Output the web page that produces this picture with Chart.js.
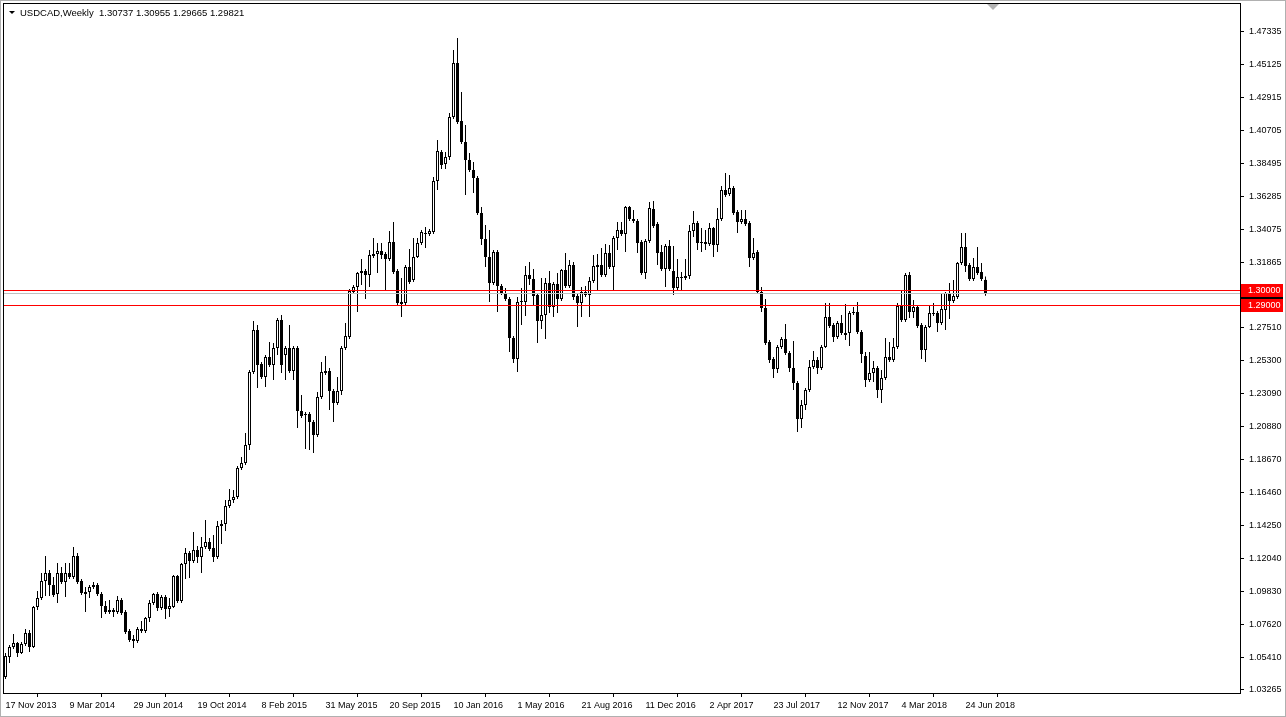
<!DOCTYPE html>
<html>
<head>
<meta charset="utf-8">
<title>USDCAD Weekly</title>
<script src="https://cdn.jsdelivr.net/npm/chart.js@4.4.0/dist/chart.umd.min.js"></script>
<style>
  html, body { margin: 0; padding: 0; background: #fff; }
  #wrap { width: 1286px; height: 717px; position: relative; }
</style>
</head>
<body>
<div id="wrap"><canvas id="chart"></canvas></div>
<script>
// ── Data (weekly candles, 17 Nov 2013 .. 29 Jul 2018) ──
const symbolTitle = "USDCAD,Weekly";
const lastQuote = "1.30737 1.30955 1.29665 1.29821";

const open = [
  1.0412, 1.0546, 1.0613, 1.0640, 1.0573, 1.0633, 1.0707, 1.0613, 1.0881, 1.0941,
  1.1055, 1.1109, 1.1029, 1.0968, 1.1109, 1.1049, 1.1109, 1.1082, 1.1223, 1.1055,
  1.0968, 1.0982, 1.1015, 1.1029, 1.0968, 1.0888, 1.0848, 1.0861, 1.0848, 1.0928,
  1.0848, 1.0720, 1.0667, 1.0653, 1.0720, 1.0720, 1.0807, 1.0908, 1.0968, 1.0874,
  1.0948, 1.0868, 1.0881, 1.1089, 1.0921, 1.1169, 1.1243, 1.1189, 1.1263, 1.1216,
  1.1283, 1.1317, 1.1276, 1.1216, 1.1424, 1.1437, 1.1558, 1.1598, 1.1618, 1.1812,
  1.1846, 1.1967, 1.2456, 1.2737, 1.2509, 1.2422, 1.2556, 1.2503, 1.2616, 1.2804,
  1.2570, 1.2616, 1.2462, 1.2616, 1.2194, 1.2168, 1.2174, 1.2121, 1.2034, 1.2288,
  1.2462, 1.2462, 1.2328, 1.2248, 1.2328, 1.2616, 1.2690, 1.2992, 1.3025, 1.3119,
  1.3132, 1.3106, 1.3233, 1.3246, 1.3266, 1.3246, 1.3213, 1.3327, 1.3132, 1.2911,
  1.2918, 1.3159, 1.3072, 1.3226, 1.3320, 1.3387, 1.3380, 1.3394, 1.3735, 1.3930,
  1.3849, 1.3896, 1.4164, 1.4526, 1.4137, 1.3997, 1.3876, 1.3809, 1.3755, 1.3521,
  1.3347, 1.3226, 1.3052, 1.3260, 1.3032, 1.2985, 1.2945, 1.2683, 1.2543, 1.2925,
  1.2925, 1.3106, 1.3079, 1.2972, 1.2797, 1.2838, 1.3052, 1.2891, 1.3045, 1.2945,
  1.3139, 1.3032, 1.3173, 1.2965, 1.2918, 1.2992, 1.2972, 1.3065, 1.3159, 1.3173,
  1.3106, 1.3253, 1.3159, 1.3353, 1.3407, 1.3380, 1.3561, 1.3481, 1.3467, 1.3327,
  1.3119, 1.3333, 1.3548, 1.3447, 1.3260, 1.3146, 1.3300, 1.3132, 1.3018, 1.3092,
  1.3085, 1.3099, 1.3400, 1.3454, 1.3320, 1.3327, 1.3313, 1.3420, 1.3307, 1.3481,
  1.3675, 1.3648, 1.3688, 1.3528, 1.3461, 1.3481, 1.3454, 1.3219, 1.3260, 1.2992,
  1.2884, 1.2657, 1.2543, 1.2476, 1.2623, 1.2677, 1.2583, 1.2482, 1.2382, 1.2141,
  1.2235, 1.2335, 1.2489, 1.2536, 1.2482, 1.2623, 1.2824, 1.2771, 1.2690, 1.2784,
  1.2717, 1.2717, 1.2851, 1.2858, 1.2724, 1.2563, 1.2402, 1.2449, 1.2482, 1.2335,
  1.2415, 1.2556, 1.2536, 1.2623, 1.2898, 1.2804, 1.3106, 1.2858, 1.2891, 1.2771,
  1.2603, 1.2757, 1.2844, 1.2851, 1.2784, 1.2871, 1.2985, 1.2931, 1.2958, 1.3186,
  1.3293, 1.3173, 1.3079, 1.3159, 1.3126, 1.3074
];
const high = [
  1.0573, 1.0627, 1.0700, 1.0647, 1.0647, 1.0734, 1.0727, 1.0888, 1.0988, 1.1109,
  1.1223, 1.1129, 1.1082, 1.1176, 1.1149, 1.1176, 1.1176, 1.1283, 1.1243, 1.1069,
  1.1015, 1.1029, 1.1049, 1.1042, 1.0982, 1.0921, 1.0928, 1.0874, 1.0955, 1.0941,
  1.0861, 1.0734, 1.0694, 1.0747, 1.0787, 1.0814, 1.0928, 1.0975, 1.0982, 1.0962,
  1.0962, 1.0941, 1.1096, 1.1096, 1.1176, 1.1276, 1.1256, 1.1384, 1.1290, 1.1350,
  1.1464, 1.1343, 1.1364, 1.1457, 1.1464, 1.1598, 1.1672, 1.1665, 1.1826, 1.1886,
  1.2047, 1.2469, 1.2797, 1.2771, 1.2523, 1.2570, 1.2657, 1.2650, 1.2817, 1.2838,
  1.2630, 1.2771, 1.2630, 1.2630, 1.2302, 1.2188, 1.2188, 1.2134, 1.2322, 1.2523,
  1.2563, 1.2482, 1.2342, 1.2422, 1.2630, 1.2784, 1.3012, 1.3039, 1.3126, 1.3213,
  1.3146, 1.3273, 1.3353, 1.3320, 1.3320, 1.3260, 1.3400, 1.3461, 1.3146, 1.3085,
  1.3173, 1.3280, 1.3353, 1.3353, 1.3407, 1.3427, 1.3414, 1.3762, 1.4010, 1.3943,
  1.3930, 1.4191, 1.4613, 1.4693, 1.4332, 1.4111, 1.3923, 1.3863, 1.3769, 1.3561,
  1.3441, 1.3407, 1.3273, 1.3273, 1.3045, 1.3018, 1.2958, 1.2697, 1.2958, 1.3018,
  1.3166, 1.3193, 1.3146, 1.2985, 1.3085, 1.3085, 1.3132, 1.3059, 1.3119, 1.3146,
  1.3253, 1.3206, 1.3193, 1.2978, 1.3025, 1.3032, 1.3092, 1.3240, 1.3246, 1.3286,
  1.3313, 1.3307, 1.3367, 1.3461, 1.3461, 1.3568, 1.3568, 1.3541, 1.3481, 1.3340,
  1.3347, 1.3595, 1.3601, 1.3461, 1.3307, 1.3313, 1.3340, 1.3300, 1.3213, 1.3126,
  1.3213, 1.3441, 1.3534, 1.3467, 1.3420, 1.3407, 1.3454, 1.3427, 1.3554, 1.3702,
  1.3789, 1.3776, 1.3702, 1.3541, 1.3541, 1.3541, 1.3467, 1.3353, 1.3273, 1.3025,
  1.2945, 1.2670, 1.2556, 1.2637, 1.2690, 1.2777, 1.2596, 1.2663, 1.2395, 1.2268,
  1.2348, 1.2536, 1.2596, 1.2556, 1.2637, 1.2918, 1.2918, 1.2784, 1.2797, 1.2838,
  1.2911, 1.2864, 1.2891, 1.2925, 1.2737, 1.2590, 1.2590, 1.2529, 1.2496, 1.2469,
  1.2683, 1.2657, 1.2683, 1.2918, 1.2998, 1.3119, 1.3126, 1.2938, 1.2905, 1.2784,
  1.2771, 1.2905, 1.2918, 1.2864, 1.2985, 1.2992, 1.3052, 1.3072, 1.3193, 1.3387,
  1.3387, 1.3186, 1.3219, 1.3293, 1.3186, 1.3096
];
const low = [
  1.0399, 1.0506, 1.0600, 1.0546, 1.0566, 1.0620, 1.0580, 1.0606, 1.0861, 1.0928,
  1.0955, 1.0955, 1.0948, 1.0908, 1.1035, 1.0948, 1.1069, 1.1069, 1.1035, 1.0962,
  1.0848, 1.0941, 1.1002, 1.0955, 1.0807, 1.0834, 1.0834, 1.0814, 1.0834, 1.0828,
  1.0700, 1.0647, 1.0606, 1.0640, 1.0707, 1.0707, 1.0781, 1.0895, 1.0854, 1.0861,
  1.0801, 1.0814, 1.0874, 1.0908, 1.0908, 1.1069, 1.1075, 1.1176, 1.1176, 1.1109,
  1.1270, 1.1256, 1.1183, 1.1203, 1.1303, 1.1390, 1.1544, 1.1578, 1.1605, 1.1799,
  1.1833, 1.1933, 1.2442, 1.2348, 1.2409, 1.2355, 1.2489, 1.2402, 1.2570, 1.2449,
  1.2402, 1.2449, 1.2402, 1.2080, 1.2147, 1.1940, 1.1933, 1.1913, 1.2020, 1.2275,
  1.2436, 1.2201, 1.2121, 1.2235, 1.2302, 1.2603, 1.2677, 1.2978, 1.2858, 1.3039,
  1.2945, 1.3025, 1.3219, 1.3119, 1.3213, 1.3005, 1.3199, 1.3112, 1.2905, 1.2824,
  1.2905, 1.3045, 1.3059, 1.3219, 1.3307, 1.3286, 1.3367, 1.3380, 1.3675, 1.3816,
  1.3816, 1.3876, 1.4151, 1.4117, 1.3983, 1.3642, 1.3796, 1.3655, 1.3508, 1.3307,
  1.3159, 1.2925, 1.3039, 1.2858, 1.2972, 1.2931, 1.2590, 1.2516, 1.2456, 1.2771,
  1.2831, 1.3039, 1.2905, 1.2650, 1.2744, 1.2677, 1.2851, 1.2824, 1.2851, 1.2931,
  1.3018, 1.3018, 1.2938, 1.2757, 1.2824, 1.2958, 1.2824, 1.3052, 1.3005, 1.3092,
  1.3092, 1.3146, 1.3005, 1.3273, 1.3367, 1.3260, 1.3467, 1.3454, 1.3253, 1.3106,
  1.3079, 1.3320, 1.3420, 1.3173, 1.3132, 1.3025, 1.3132, 1.2972, 1.3005, 1.3005,
  1.3072, 1.3079, 1.3360, 1.3273, 1.3260, 1.3273, 1.3300, 1.3226, 1.3260, 1.3467,
  1.3628, 1.3635, 1.3508, 1.3387, 1.3447, 1.3434, 1.3159, 1.3206, 1.2978, 1.2858,
  1.2637, 1.2516, 1.2415, 1.2449, 1.2610, 1.2570, 1.2456, 1.2335, 1.2054, 1.2080,
  1.2201, 1.2322, 1.2476, 1.2442, 1.2469, 1.2616, 1.2750, 1.2657, 1.2677, 1.2704,
  1.2670, 1.2630, 1.2838, 1.2710, 1.2516, 1.2355, 1.2389, 1.2389, 1.2281, 1.2248,
  1.2402, 1.2523, 1.2523, 1.2610, 1.2791, 1.2791, 1.2817, 1.2817, 1.2750, 1.2543,
  1.2523, 1.2750, 1.2831, 1.2724, 1.2771, 1.2737, 1.2811, 1.2918, 1.2945, 1.3173,
  1.3126, 1.3065, 1.3065, 1.3106, 1.3065, 1.2967
];
const close = [
  1.0553, 1.0613, 1.0640, 1.0573, 1.0633, 1.0707, 1.0613, 1.0881, 1.0941, 1.1055,
  1.1109, 1.1029, 1.0962, 1.1109, 1.1049, 1.1109, 1.1082, 1.1223, 1.1049, 1.0975,
  1.0982, 1.1015, 1.1029, 1.0968, 1.0888, 1.0848, 1.0861, 1.0848, 1.0928, 1.0841,
  1.0714, 1.0660, 1.0653, 1.0734, 1.0734, 1.0807, 1.0908, 1.0968, 1.0874, 1.0948,
  1.0868, 1.0888, 1.1089, 1.0921, 1.1169, 1.1243, 1.1189, 1.1263, 1.1216, 1.1283,
  1.1317, 1.1270, 1.1216, 1.1424, 1.1437, 1.1558, 1.1598, 1.1618, 1.1812, 1.1846,
  1.1967, 1.2456, 1.2737, 1.2503, 1.2422, 1.2556, 1.2503, 1.2616, 1.2804, 1.2503,
  1.2616, 1.2462, 1.2616, 1.2194, 1.2161, 1.2174, 1.2121, 1.2034, 1.2288, 1.2456,
  1.2449, 1.2328, 1.2248, 1.2328, 1.2616, 1.2697, 1.2998, 1.3025, 1.3119, 1.3132,
  1.3106, 1.3240, 1.3246, 1.3266, 1.3240, 1.3213, 1.3327, 1.3126, 1.2918, 1.2925,
  1.3159, 1.3059, 1.3226, 1.3320, 1.3394, 1.3380, 1.3400, 1.3735, 1.3936, 1.3843,
  1.3896, 1.4164, 1.4526, 1.4131, 1.3997, 1.3876, 1.3809, 1.3755, 1.3521, 1.3347,
  1.3226, 1.3052, 1.3260, 1.3032, 1.2985, 1.2945, 1.2683, 1.2543, 1.2925, 1.2931,
  1.3106, 1.3079, 1.2965, 1.2797, 1.2838, 1.3052, 1.2891, 1.3045, 1.2945, 1.3139,
  1.3032, 1.3173, 1.2958, 1.2918, 1.2992, 1.2972, 1.3065, 1.3166, 1.3173, 1.3106,
  1.3253, 1.3159, 1.3353, 1.3407, 1.3380, 1.3561, 1.3481, 1.3467, 1.3320, 1.3119,
  1.3333, 1.3554, 1.3434, 1.3253, 1.3146, 1.3300, 1.3146, 1.3018, 1.3092, 1.3085,
  1.3099, 1.3400, 1.3454, 1.3320, 1.3327, 1.3313, 1.3420, 1.3307, 1.3481, 1.3675,
  1.3642, 1.3688, 1.3521, 1.3461, 1.3481, 1.3447, 1.3219, 1.3253, 1.2992, 1.2884,
  1.2650, 1.2536, 1.2476, 1.2623, 1.2677, 1.2583, 1.2482, 1.2382, 1.2141, 1.2235,
  1.2335, 1.2489, 1.2536, 1.2482, 1.2623, 1.2824, 1.2764, 1.2690, 1.2784, 1.2717,
  1.2704, 1.2851, 1.2858, 1.2724, 1.2576, 1.2402, 1.2449, 1.2482, 1.2335, 1.2415,
  1.2556, 1.2536, 1.2623, 1.2898, 1.2804, 1.3106, 1.2858, 1.2891, 1.2764, 1.2603,
  1.2757, 1.2851, 1.2851, 1.2784, 1.2878, 1.2985, 1.2931, 1.2965, 1.3186, 1.3293,
  1.3166, 1.3079, 1.3159, 1.3119, 1.3079, 1.2982
];

// bar index of each date label (one bar per week)
const xTickIdx = [0, 16, 32, 48, 64, 80, 96, 112, 128, 144, 160, 176, 192, 208, 224, 240];
const xTickLabels = [
  "17 Nov 2013", "9 Mar 2014", "29 Jun 2014", "19 Oct 2014", "8 Feb 2015",
  "31 May 2015", "20 Sep 2015", "10 Jan 2016", "1 May 2016", "21 Aug 2016",
  "11 Dec 2016", "2 Apr 2017", "23 Jul 2017", "12 Nov 2017", "4 Mar 2018", "24 Jun 2018"
];
const yTicks = [
  1.47335, 1.45125, 1.42915, 1.40705, 1.38495, 1.36285, 1.34075, 1.31865,
  1.27510, 1.25300, 1.23090, 1.20880, 1.18670, 1.16460, 1.14250, 1.12040,
  1.09830, 1.07620, 1.05410, 1.03265
];
const levels = [1.30000, 1.29000];
const bidPrice = 1.29821;

const Y_MIN = 1.0305;
const Y_MAX = 1.4921;

const FONT = "'Liberation Sans', Arial, sans-serif";
Chart.defaults.font.family = FONT;
Chart.defaults.font.size = 9;
Chart.defaults.color = "#000";

const idx = open.map((_, i) => i);
const isBull = (i) => close[i] >= open[i];

// ── MT4 style extras: frame, price lines, tags, title ──
const mt4Plugin = {
  id: "mt4",
  beforeDraw(chart) {
    const { ctx, width, height } = chart;
    ctx.save();
    ctx.fillStyle = "#fff";
    ctx.fillRect(0, 0, width, height);
    ctx.restore();
  },
  afterDatasetsDraw(chart) {
    const { ctx, chartArea: a, scales } = chart;
    const y = scales.y;
    ctx.save();
    ctx.lineWidth = 1;
    const hline = (v, color) => {
      const py = Math.floor(y.getPixelForValue(v)) + 0.5;
      ctx.strokeStyle = color;
      ctx.beginPath();
      ctx.moveTo(a.left, py);
      ctx.lineTo(a.right, py);
      ctx.stroke();
    };
    hline(bidPrice, "#c0c0c0");
    levels.forEach((v) => hline(v, "#ff0000"));

    ctx.strokeStyle = "#000";
    ctx.strokeRect(a.left - 0.5, a.top - 0.5, a.right - a.left + 1, a.bottom - a.top + 1);
    ctx.restore();
  },
  afterDraw(chart) {
    const { ctx, chartArea: a, scales, width, height } = chart;
    const y = scales.y;
    ctx.save();
    ctx.font = "9px " + FONT;
    ctx.textBaseline = "middle";

    const tag = (v, bg) => {
      const py = Math.floor(y.getPixelForValue(v));
      ctx.fillStyle = bg;
      ctx.fillRect(a.right + 1, py - 6, 42, 13);
      ctx.fillStyle = "#fff";
      ctx.fillText(v.toFixed(5), a.right + 8, py + 1);
    };
    tag(bidPrice, "#000");
    levels.forEach((v) => tag(v, "#ff0000"));

    // title
    ctx.fillStyle = "#000";
    ctx.beginPath();
    ctx.moveTo(9, 11);
    ctx.lineTo(15, 11);
    ctx.lineTo(12, 14);
    ctx.closePath();
    ctx.fill();
    ctx.font = "9.5px " + FONT;
    ctx.textBaseline = "alphabetic";
    ctx.fillText(symbolTitle + "  " + lastQuote, 20, 16);

    // chart shift marker
    ctx.fillStyle = "#b4b4b4";
    ctx.beginPath();
    ctx.moveTo(987, a.top);
    ctx.lineTo(999, a.top);
    ctx.lineTo(993, a.top + 6);
    ctx.closePath();
    ctx.fill();

    // window edge
    ctx.strokeStyle = "#b0b0b0";
    ctx.strokeRect(0.5, 0.5, width - 1, height - 1);
    ctx.restore();
  },
};

new Chart(document.getElementById("chart"), {
  type: "bar",
  data: {
    datasets: [
      {
        label: "Body",
        data: idx.map((i) => ({ x: i, y: [open[i], close[i]] })),
        backgroundColor: (c) => (isBull(c.dataIndex) ? "#ffffff" : "#000000"),
        borderColor: "#000",
        borderWidth: 1,
        borderSkipped: false,
        grouped: false,
        barPercentage: 1,
        categoryPercentage: 1,
        maxBarThickness: 3,
        minBarLength: 1,
        inflateAmount: 0,
        order: 0,
      },
      {
        label: "Wick",
        data: idx.map((i) => ({ x: i, y: [low[i], high[i]] })),
        backgroundColor: "#000",
        borderWidth: 0,
        grouped: false,
        barPercentage: 1,
        categoryPercentage: 1,
        maxBarThickness: 1,
        inflateAmount: 0,
        order: 1,
      },
    ],
  },
  options: {
    responsive: true,
    maintainAspectRatio: false,
    animation: false,
    events: [],
    layout: { padding: { top: 4, left: 4, right: 0, bottom: 0 } },
    plugins: {
      legend: { display: false },
      tooltip: { enabled: false },
    },
    scales: {
      x: {
        type: "linear",
        min: -0.375,
        max: 308.625,
        offset: false,
        border: { display: false },
        grid: { drawOnChartArea: false, tickLength: 4, color: "#000" },
        ticks: {
          autoSkip: false,
          maxRotation: 0,
          align: "start",
          padding: 3,
          callback: (v, i) => xTickLabels[i],
        },
        afterBuildTicks: (s) => {
          s.ticks = xTickIdx.map((v) => ({ value: v }));
        },
        afterFit: (s) => {
          s.height = 24;
          s.paddingLeft = 0;
          s.paddingRight = 0;
        },
      },
      y: {
        type: "linear",
        position: "right",
        min: Y_MIN,
        max: Y_MAX,
        border: { display: false },
        grid: { drawOnChartArea: false, tickLength: 4, color: "#000" },
        ticks: {
          autoSkip: false,
          padding: 5,
          callback: (v) => Number(v).toFixed(5),
        },
        afterBuildTicks: (s) => {
          s.ticks = yTicks.map((v) => ({ value: v }));
        },
        afterFit: (s) => {
          s.width = 46;
          s.paddingTop = 0;
          s.paddingBottom = 0;
        },
      },
    },
  },
  plugins: [mt4Plugin],
});
</script>
</body>
</html>
